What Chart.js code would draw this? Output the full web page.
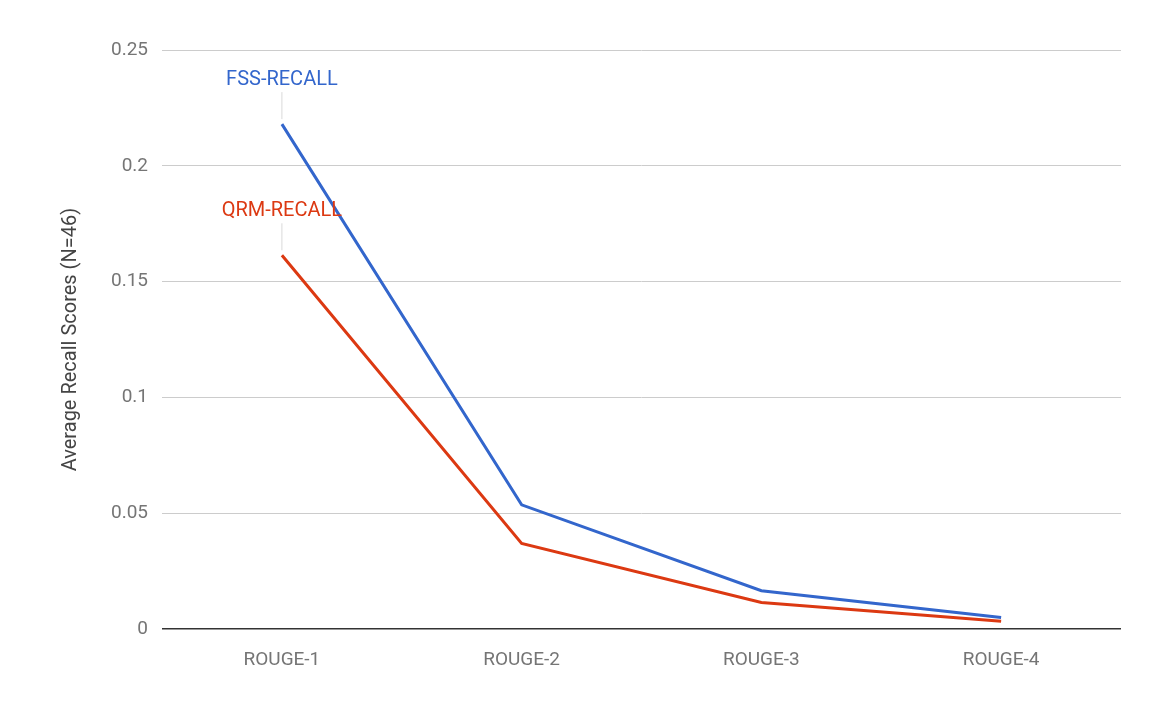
<!DOCTYPE html>
<html>
<head>
<meta charset="utf-8">
<script src="https://cdn.jsdelivr.net/npm/chart.js@4"></script>
<style>
  html, body { margin: 0; padding: 0; background: #fff; }
  #wrap { width: 1156px; height: 714px; }
</style>
</head>
<body>
<div id="wrap"><canvas id="chart"></canvas></div>
<script>
const categories = ['ROUGE-1', 'ROUGE-2', 'ROUGE-3', 'ROUGE-4'];
const fssRecall = [0.218, 0.0537, 0.0166, 0.0051];
const qrmRecall = [0.1614, 0.037, 0.0115, 0.0034];
const yTicks = [0, 0.05, 0.1, 0.15, 0.2, 0.25];

// series labels above the first point, with a short leader line
const seriesLabels = {
    id: 'seriesLabels',
    afterDatasetsDraw(chart) {
        const ctx = chart.ctx;
        chart.data.datasets.forEach((ds, i) => {
            const pt = chart.getDatasetMeta(i).data[0];
            ctx.save();
            ctx.strokeStyle = '#d9d9d9';
            ctx.lineWidth = 1;
            ctx.beginPath();
            ctx.moveTo(pt.x, pt.y - 5);
            ctx.lineTo(pt.x, pt.y - 32);
            ctx.stroke();
            ctx.fillStyle = ds.borderColor;
            ctx.font = '20px Roboto';
            ctx.textAlign = 'center';
            ctx.textBaseline = 'middle';
            ctx.fillText(ds.label, pt.x, pt.y - 44);
            ctx.restore();
        });
    }
};

new Chart(document.getElementById('chart'), {
    type: 'line',
    data: {
        labels: categories,
        datasets: [
            { label: 'FSS-RECALL', data: fssRecall, borderColor: '#3366cc', borderWidth: 3, pointRadius: 0, tension: 0 },
            { label: 'QRM-RECALL', data: qrmRecall, borderColor: '#dc3912', borderWidth: 3, pointRadius: 0, tension: 0 }
        ]
    },
    options: {
        responsive: true,
        maintainAspectRatio: false,
        animation: false,
        layout: { padding: { top: 50, right: 35, bottom: 30, left: 55 } },
        plugins: { legend: { display: false }, tooltip: { enabled: false } },
        scales: {
            x: {
                offset: true,
                grid: { display: false },
                border: { display: false },
                ticks: { color: '#757575', font: { family: 'Roboto', size: 19 }, padding: 12 }
            },
            y: {
                min: 0,
                max: 0.25,
                afterBuildTicks(axis) { axis.ticks = yTicks.map(v => ({ value: v })); },
                grid: {
                    color: ctx => ctx.tick.value === 0 ? '#333333' : '#cccccc',
                    lineWidth: ctx => ctx.tick.value === 0 ? 1.5 : 1,
                    drawTicks: false
                },
                border: { display: false },
                ticks: {
                    color: '#757575',
                    font: { family: 'Roboto', size: 19 },
                    padding: 14,
                    callback: v => String(v)
                },
                title: {
                    display: true,
                    text: 'Average Recall Scores (N=46)',
                    color: '#444444',
                    font: { family: 'Roboto', size: 20 },
                    padding: { bottom: 14 }
                }
            }
        }
    },
    plugins: [seriesLabels]
});
</script>
</body>
</html>
